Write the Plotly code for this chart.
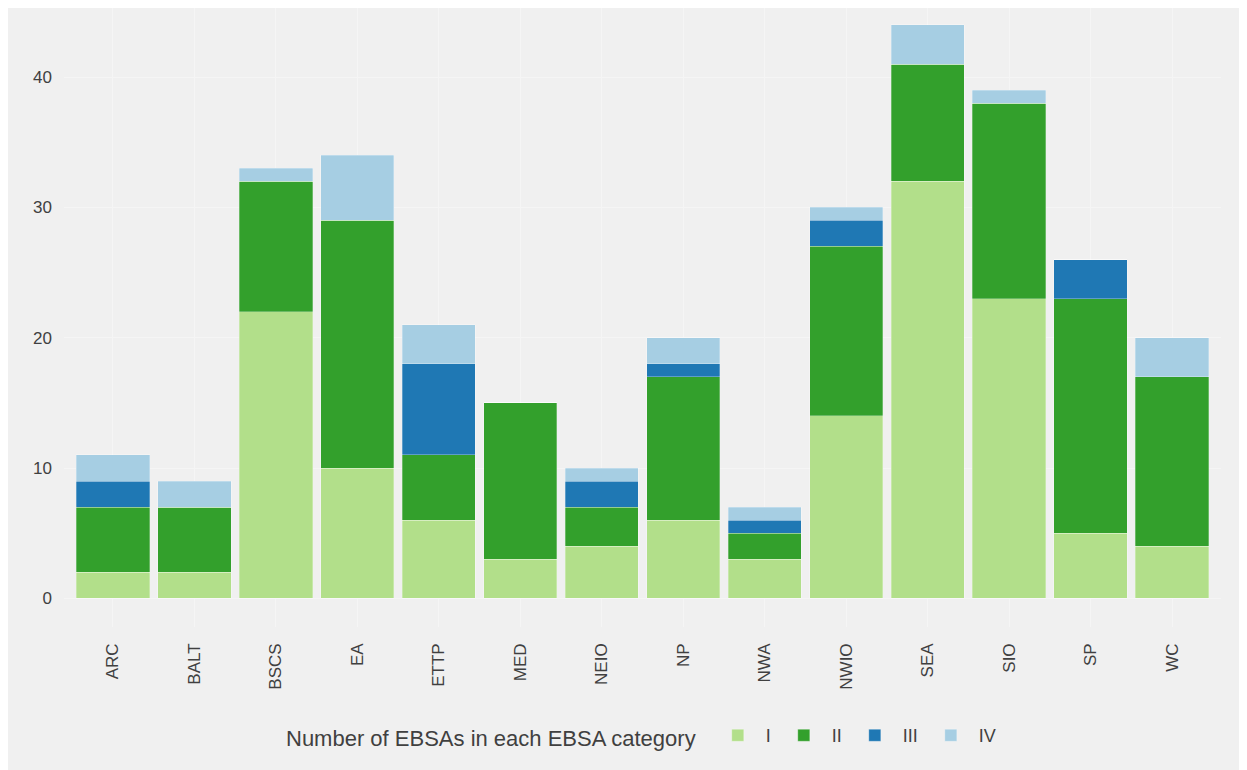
import plotly.graph_objects as go

regions = ["ARC", "BALT", "BSCS", "EA", "ETTP", "MED", "NEIO", "NP", "NWA", "NWIO", "SEA", "SIO", "SP", "WC"]
cat_I   = [2, 2, 22, 10, 6, 3, 4, 6, 3, 14, 32, 23, 5, 4]
cat_II  = [5, 5, 10, 19, 5, 12, 3, 11, 2, 13, 9, 15, 18, 13]
cat_III = [2, 0, 0, 0, 7, 0, 2, 1, 1, 2, 0, 0, 3, 0]
cat_IV  = [2, 2, 1, 5, 3, 0, 1, 2, 1, 1, 3, 1, 0, 3]
series_names = ["I", "II", "III", "IV"]
series_values = [cat_I, cat_II, cat_III, cat_IV]
colors = ["#b2df8a", "#33a02c", "#1f78b4", "#a6cee3"]
y_ticks = [0, 10, 20, 30, 40]

fig = go.Figure()
for name, vals, col in zip(series_names, series_values, colors):
    fig.add_trace(go.Bar(
        x=regions, y=vals, name=name,
        marker=dict(color=col, line=dict(color="rgba(255,255,255,0.35)", width=0.8)),
        width=0.9,
    ))

font_family = "Liberation Sans, Arial, sans-serif"
fig.update_layout(
    barmode="stack",
    width=1247, height=770,
    paper_bgcolor="#f0f0f0", plot_bgcolor="#f0f0f0",
    margin=dict(l=56, r=34, t=0, b=151),
    font=dict(family=font_family, color="#404040", size=17),
    xaxis=dict(
        range=[-0.6, 13.6], tickangle=-90, showgrid=True, gridcolor="#f5f5f5", gridwidth=1,
        zeroline=False, ticks="", ticklabelstandoff=12,
        tickfont=dict(size=17, color="#404040"),
    ),
    yaxis=dict(
        range=[-2.2, 45.3], tickvals=y_ticks, showgrid=True, gridcolor="#f5f5f5", gridwidth=1,
        zeroline=False, ticks="", ticklabelstandoff=11,
        tickfont=dict(size=17, color="#404040"),
    ),
    legend=dict(
        orientation="h", x=0.5, xanchor="center", y=-0.177, yanchor="middle",
        title=dict(text="Number of EBSAs in each EBSA category ", font=dict(size=22, color="#404040")),
        font=dict(size=18, color="#404040"), bgcolor="rgba(0,0,0,0)",
        itemwidth=46, traceorder="normal",
    ),
)
fig.write_html("out.html")
